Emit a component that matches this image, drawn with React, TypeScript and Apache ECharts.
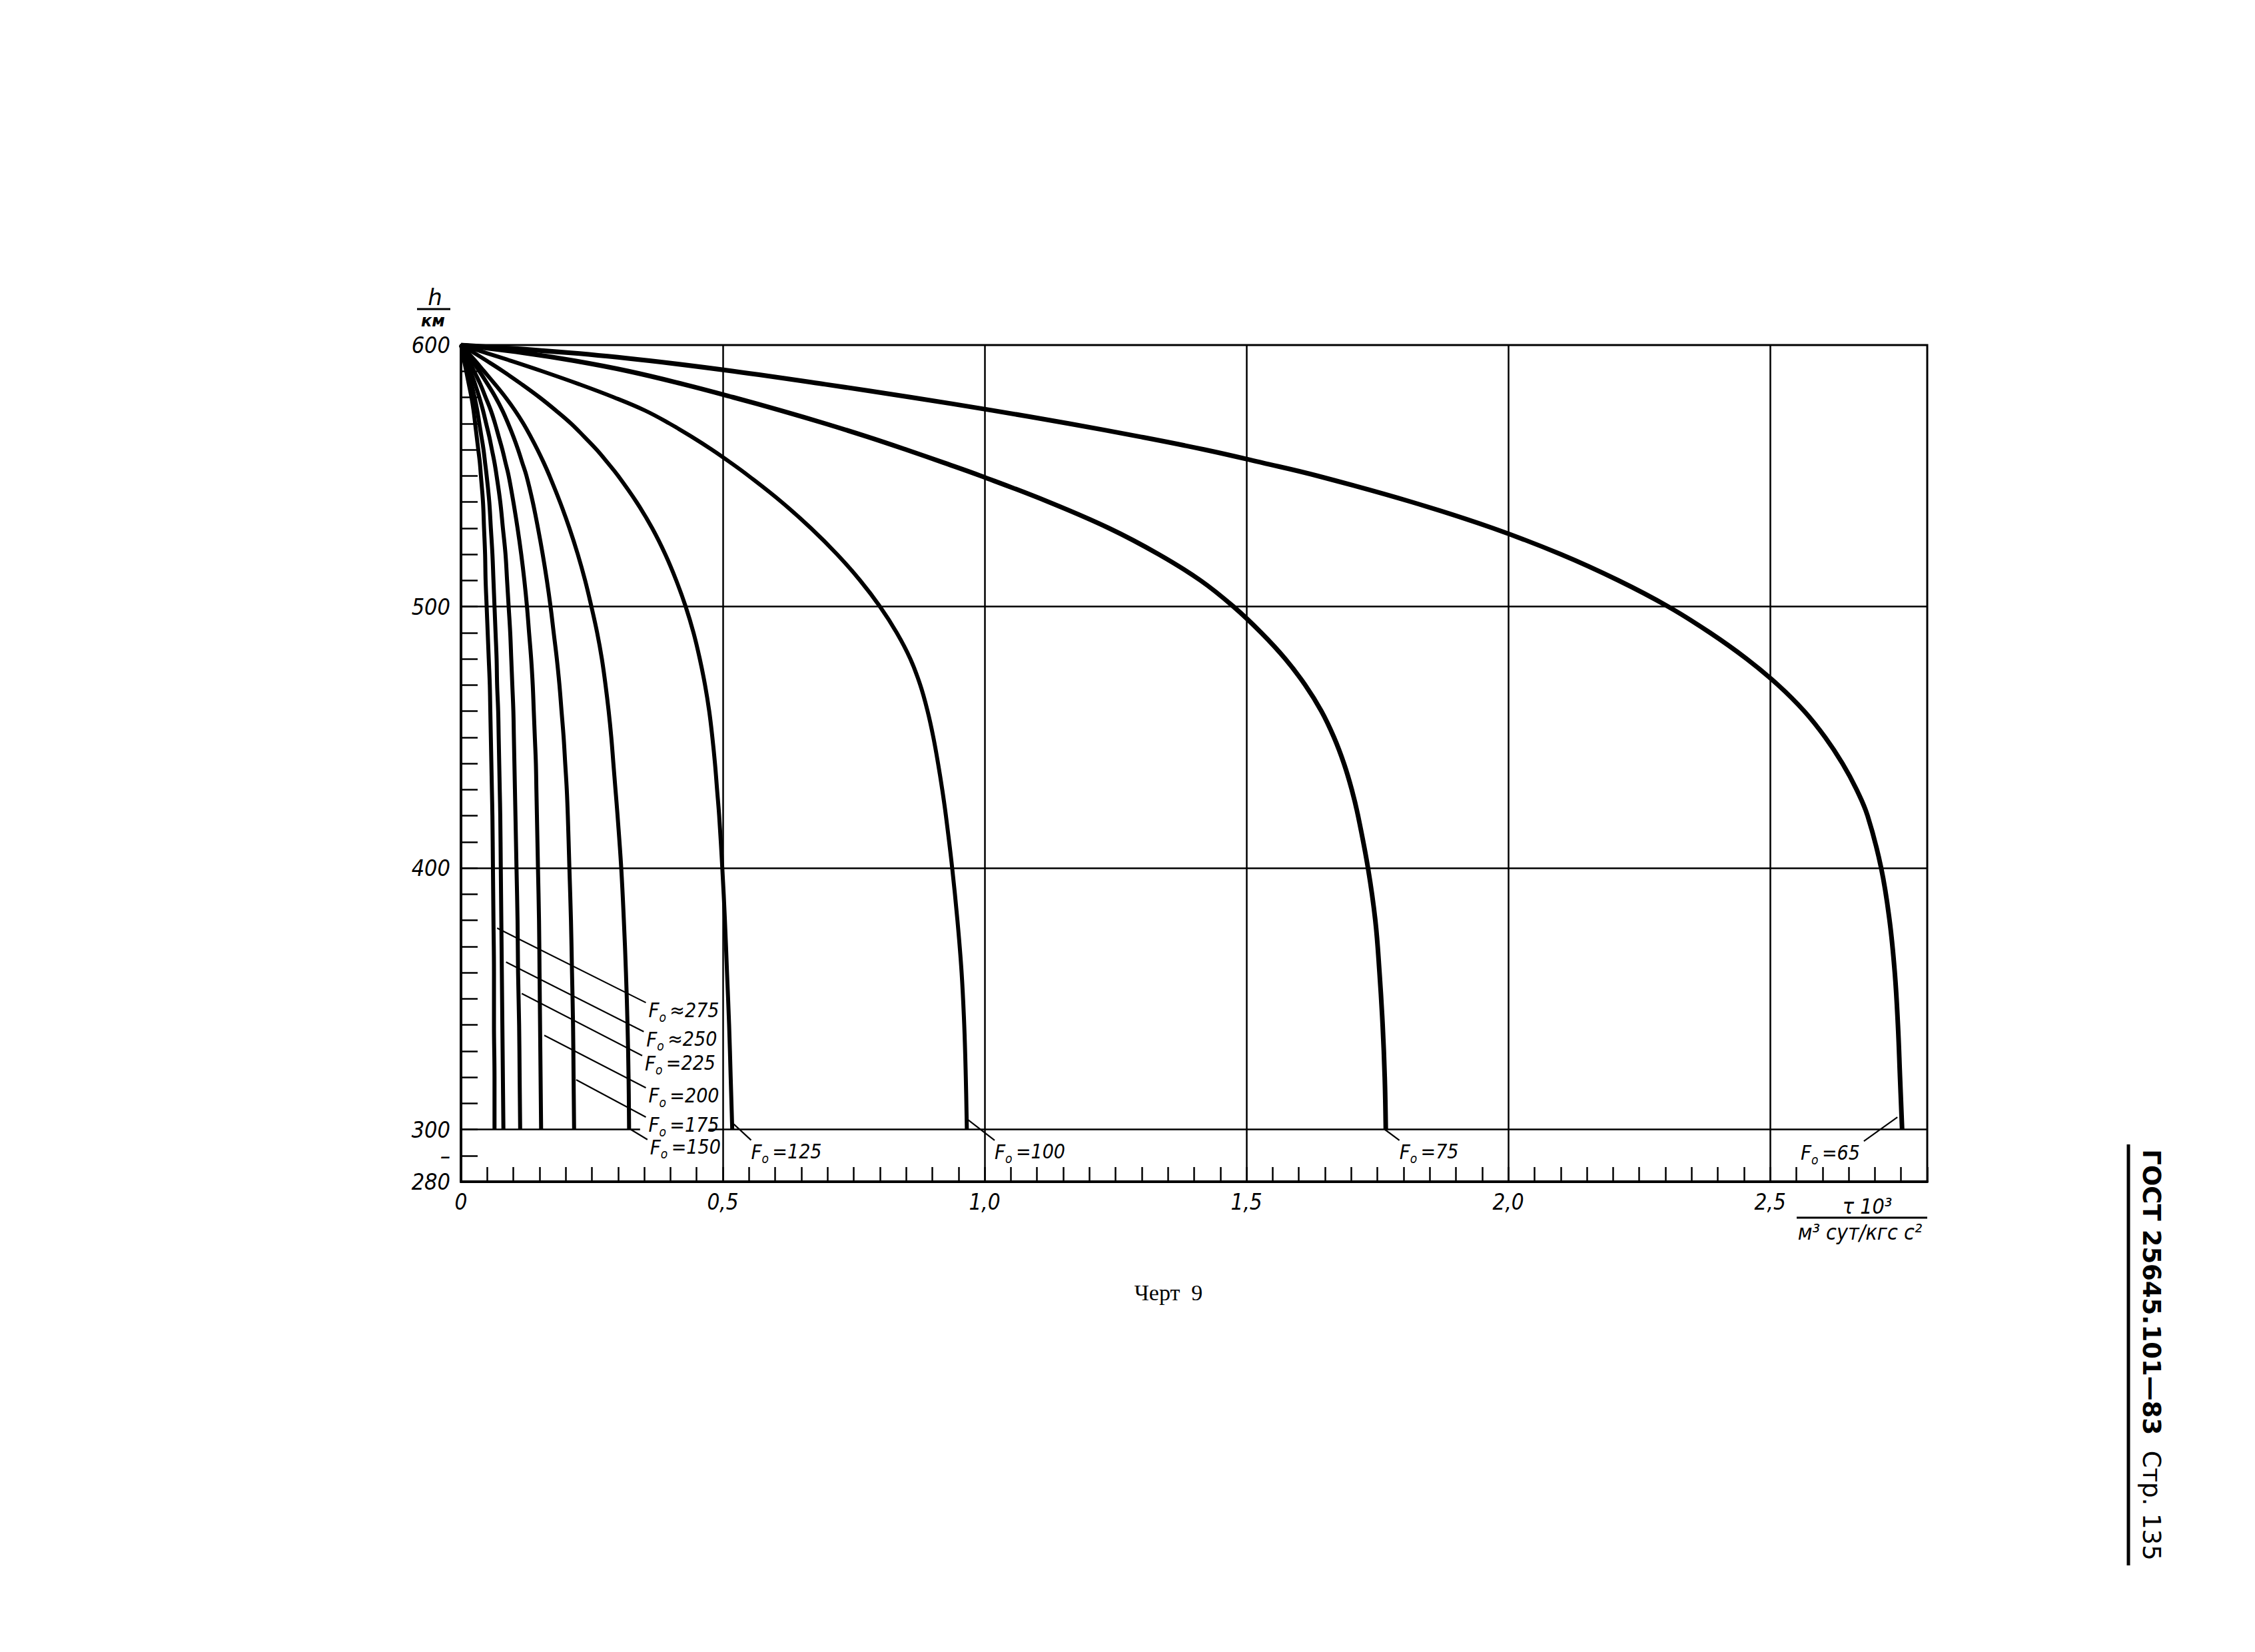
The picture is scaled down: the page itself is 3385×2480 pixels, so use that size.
import React, { useEffect, useRef } from "react";
import * as echarts from "echarts";

// Altitude levels h, km (common sampling of every curve)
const H_LEVELS = [600, 597, 594, 590, 585, 580, 575, 570, 565, 560, 555, 550, 540, 530, 520, 510, 500, 490, 480, 470, 460, 450, 440, 430, 420, 400, 380, 360, 340, 320, 300];

// tau·10^3 values read for each F0 curve at the levels above
const TAU_275 = [0, 0.003, 0.006, 0.01, 0.015, 0.02, 0.024, 0.027, 0.03, 0.033, 0.036, 0.038, 0.042, 0.044, 0.046, 0.047, 0.049, 0.051, 0.053, 0.055, 0.056, 0.057, 0.058, 0.059, 0.06, 0.061, 0.062, 0.063, 0.063, 0.064, 0.064];
const TAU_250 = [0, 0.004, 0.008, 0.013, 0.02, 0.026, 0.031, 0.035, 0.039, 0.043, 0.046, 0.049, 0.054, 0.057, 0.06, 0.062, 0.064, 0.066, 0.068, 0.069, 0.071, 0.072, 0.073, 0.074, 0.075, 0.076, 0.077, 0.078, 0.079, 0.08, 0.081];
const TAU_225 = [0, 0.006, 0.011, 0.018, 0.027, 0.035, 0.042, 0.048, 0.054, 0.059, 0.064, 0.068, 0.075, 0.08, 0.085, 0.088, 0.091, 0.094, 0.096, 0.098, 0.1, 0.101, 0.102, 0.103, 0.104, 0.106, 0.108, 0.109, 0.111, 0.112, 0.113];
const TAU_200 = [0, 0.008, 0.015, 0.025, 0.037, 0.047, 0.057, 0.065, 0.072, 0.079, 0.085, 0.091, 0.1, 0.108, 0.115, 0.121, 0.126, 0.13, 0.134, 0.137, 0.139, 0.141, 0.143, 0.144, 0.145, 0.147, 0.149, 0.15, 0.151, 0.152, 0.153];
const TAU_175 = [0, 0.011, 0.021, 0.035, 0.051, 0.066, 0.079, 0.09, 0.1, 0.109, 0.117, 0.125, 0.137, 0.147, 0.156, 0.164, 0.171, 0.177, 0.183, 0.188, 0.192, 0.196, 0.199, 0.202, 0.204, 0.207, 0.21, 0.212, 0.214, 0.215, 0.216];
const TAU_150 = [0, 0.0135, 0.027, 0.044, 0.065, 0.085, 0.103, 0.119, 0.133, 0.146, 0.158, 0.169, 0.189, 0.207, 0.223, 0.237, 0.249, 0.26, 0.269, 0.276, 0.282, 0.287, 0.291, 0.295, 0.299, 0.306, 0.311, 0.315, 0.318, 0.32, 0.321];
const TAU_125 = [0, 0.025, 0.049, 0.08, 0.116, 0.15, 0.181, 0.21, 0.235, 0.259, 0.28, 0.3, 0.335, 0.365, 0.39, 0.411, 0.429, 0.444, 0.456, 0.466, 0.474, 0.48, 0.485, 0.489, 0.493, 0.499, 0.504, 0.508, 0.512, 0.515, 0.518];
const TAU_100 = [0, 0.048, 0.095, 0.155, 0.226, 0.292, 0.351, 0.398, 0.44, 0.479, 0.515, 0.549, 0.612, 0.668, 0.718, 0.762, 0.8, 0.832, 0.858, 0.877, 0.891, 0.902, 0.911, 0.919, 0.926, 0.938, 0.948, 0.956, 0.961, 0.964, 0.966];
const TAU_75 = [0, 0.12, 0.216, 0.32, 0.425, 0.52, 0.61, 0.695, 0.775, 0.85, 0.922, 0.992, 1.122, 1.237, 1.332, 1.412, 1.475, 1.528, 1.574, 1.612, 1.643, 1.667, 1.686, 1.701, 1.713, 1.732, 1.746, 1.754, 1.76, 1.764, 1.766];
const TAU_65 = [0, 0.21, 0.36, 0.52, 0.695, 0.86, 1.015, 1.16, 1.295, 1.42, 1.53, 1.635, 1.815, 1.97, 2.1, 2.21, 2.305, 2.385, 2.455, 2.515, 2.565, 2.605, 2.638, 2.665, 2.686, 2.712, 2.728, 2.738, 2.744, 2.748, 2.752];

const F0_VALUES = [275, 250, 225, 200, 175, 150, 125, 100, 75, 65];
const CURVES = [TAU_275, TAU_250, TAU_225, TAU_200, TAU_175, TAU_150, TAU_125, TAU_100, TAU_75, TAU_65];
const LABEL_SIGNS = ["≈", "≈", "=", "=", "=", "=", "=", "=", "=", "="];

// leader lines (data coords): from the curve to the label
const LEADER_FROM_TAU = [0.069, 0.086, 0.116, 0.159, 0.22, 0.324, 0.521, 0.963, 1.764, 2.743];
const LEADER_FROM_H = [377, 364, 352, 336, 319, 300, 302, 304.5, 300, 304.7];
const LEADER_TO_TAU = [0.353, 0.349, 0.346, 0.353, 0.353, 0.356, 0.554, 1.019, 1.792, 2.679];
const LEADER_TO_H = [348.5, 337.4, 328.2, 315.9, 304.7, 296.1, 295.9, 295.8, 295.8, 295.5];

// grid lines
const V_GRID = [0.5, 1.0, 1.5, 2.0, 2.5];
const H_GRID = [400, 500];
const H300_SEGMENTS = [[0, 0.342], [0.473, 2.8]];

const X_LABELED = [0, 0.5, 1.0, 1.5, 2.0, 2.5];
const X_LABEL_TEXT = ["0", "0,5", "1,0", "1,5", "2,0", "2,5"];
const Y_LABELED = [600, 500, 400, 300, 290, 280];
const Y_LABEL_TEXT = ["600", "500", "400", "300", "–", "280"];

const NARROW = "'Liberation Sans Narrow', 'DejaVu Sans Condensed', 'Liberation Sans', sans-serif";
const SANS = "'DejaVu Sans', 'Liberation Sans', sans-serif";

export default function App() {
  const ref = useRef<HTMLDivElement>(null);

  useEffect(() => {
    document.body.style.margin = "0";
    const chart = echarts.init(ref.current as HTMLDivElement, undefined, { renderer: "svg" });

    const curveSeries = CURVES.map((tau, i) => ({
      type: "line",
      name: "F0=" + F0_VALUES[i],
      data: H_LEVELS.map((h, k) => [tau[k], h]),
      showSymbol: false,
      symbol: "none",
      smooth: 0.4,
      lineStyle: { color: "#000", width: i >= 8 ? 7 : 6 },
      z: 5,
      silent: true,
    }));

    const gridLineData: any[] = [
      ...V_GRID.map((v) => ({ xAxis: v })),
      ...H_GRID.map((v) => ({ yAxis: v })),
      ...H300_SEGMENTS.map((s) => [{ coord: [s[0], 300] }, { coord: [s[1], 300] }]),
    ];

    const leaderData: any[] = F0_VALUES.map((_, i) => [
      { coord: [LEADER_FROM_TAU[i], LEADER_FROM_H[i]] },
      { coord: [LEADER_TO_TAU[i], LEADER_TO_H[i]] },
    ]);

    const option: any = {
      animation: false,
      backgroundColor: "#fff",
      grid: { left: 692, top: 518, width: 2201, height: 1256, show: true, borderColor: "#000", borderWidth: 3, backgroundColor: "transparent" },
      xAxis: {
        type: "value",
        min: 0,
        max: 2.8,
        interval: 0.05,
        axisLine: { show: true, onZero: false, lineStyle: { color: "#000", width: 4 } },
        axisTick: { show: true, inside: true, length: 22, lineStyle: { color: "#000", width: 2.5 } },
        axisLabel: {
          show: true,
          margin: 14,
          color: "#000",
          fontSize: 33,
          fontStyle: "italic",
          fontFamily: NARROW,
          formatter: (v: number) => {
            const idx = X_LABELED.findIndex((x) => Math.abs(x - v) < 1e-6);
            return idx >= 0 ? X_LABEL_TEXT[idx] : "";
          },
        },
        splitLine: { show: false },
      },
      yAxis: {
        type: "value",
        min: 280,
        max: 600,
        interval: 10,
        axisLine: { show: true, onZero: false, lineStyle: { color: "#000", width: 4 } },
        axisTick: { show: true, inside: true, length: 25, lineStyle: { color: "#000", width: 2.5 } },
        axisLabel: {
          show: true,
          margin: 16,
          color: "#000",
          fontSize: 34,
          fontStyle: "italic",
          fontFamily: NARROW,
          formatter: (v: number) => {
            const idx = Y_LABELED.findIndex((y) => Math.abs(y - v) < 1e-6);
            return idx >= 0 ? Y_LABEL_TEXT[idx] : "";
          },
        },
        splitLine: { show: false },
      },
      series: [
        {
          type: "line",
          data: [],
          silent: true,
          z: 1,
          markLine: {
            silent: true,
            symbol: ["none", "none"],
            label: { show: false },
            lineStyle: { color: "#000", width: 2.5, type: "solid" },
            data: gridLineData,
          },
        },
        {
          type: "line",
          data: [],
          silent: true,
          z: 4,
          markLine: {
            silent: true,
            symbol: ["none", "none"],
            label: { show: false },
            lineStyle: { color: "#000", width: 2.2, type: "solid" },
            data: leaderData,
          },
        },
        ...curveSeries,
      ],
    };

    chart.setOption(option);

    const labelRich = {
      f: { fontSize: 31, fontStyle: "italic", fontFamily: NARROW, fill: "#000", lineHeight: 40, verticalAlign: "middle" },
      s: { fontSize: 19, fontStyle: "italic", fontFamily: NARROW, fill: "#000", lineHeight: 40, verticalAlign: "bottom" },
      t: { fontSize: 30, fontStyle: "italic", fontFamily: NARROW, fill: "#000", lineHeight: 40, verticalAlign: "middle" },
    };

    const labelGraphics = F0_VALUES.map((f, i) => {
      const p = chart.convertToPixel({ gridIndex: 0 }, [LEADER_TO_TAU[i], LEADER_TO_H[i]]) as number[];
      const toLeft = LEADER_FROM_TAU[i] > LEADER_TO_TAU[i];
      const bottomRow = i >= 6;
      return {
        type: "text",
        x: toLeft ? p[0] - 6 : bottomRow ? p[0] : p[0] + 4,
        y: bottomRow ? p[1] + 17 : p[1] + 11,
        z: 10,
        silent: true,
        style: {
          text: `{f|F}{s|o}{t|\u2009${LABEL_SIGNS[i]}${f}}`,
          rich: labelRich,
          align: toLeft ? "right" : "left",
          verticalAlign: "middle",
        },
      };
    });

    const staticGraphics: any[] = [
      { type: "text", x: 653, y: 446, style: { text: "h", fontSize: 34, fontStyle: "italic", fontFamily: SANS, fill: "#000", align: "center", verticalAlign: "middle" } },
      { type: "line", shape: { x1: 626, y1: 464, x2: 676, y2: 464 }, style: { stroke: "#000", lineWidth: 3 } },
      { type: "text", x: 650, y: 482, style: { text: "км", fontSize: 24, fontStyle: "italic", fontWeight: "bold", fontFamily: SANS, fill: "#000", align: "center", verticalAlign: "middle" } },
      { type: "text", x: 2803, y: 1811, style: { text: "τ 10³", fontSize: 32, fontStyle: "italic", fontFamily: NARROW, fill: "#000", align: "center", verticalAlign: "middle" } },
      { type: "line", shape: { x1: 2697, y1: 1828, x2: 2893, y2: 1828 }, style: { stroke: "#000", lineWidth: 3 } },
      { type: "text", x: 2792, y: 1850, style: { text: "м³ сут/кгс с²", fontSize: 32, fontStyle: "italic", fontFamily: NARROW, fill: "#000", align: "center", verticalAlign: "middle" } },
      { type: "text", x: 1754, y: 1940, style: { text: "Черт  9", fontSize: 34, fontFamily: "'Liberation Serif', 'DejaVu Serif', serif", fill: "#000", align: "center", verticalAlign: "middle" } },
      { type: "line", shape: { x1: 3195, y1: 1718, x2: 3195, y2: 2350 }, style: { stroke: "#000", lineWidth: 5 } },
      {
        type: "text",
        x: 3229,
        y: 2034,
        rotation: -Math.PI / 2,
        style: {
          text: "{b|ГОСТ 25645.101—83}{r|  Стр. 135}",
          rich: {
            b: { fontSize: 37, fontWeight: "bold", fontFamily: SANS, fill: "#000" },
            r: { fontSize: 37, fontFamily: SANS, fill: "#000" },
          },
          align: "center",
          verticalAlign: "middle",
        },
      },
    ];

    chart.setOption({ graphic: [...staticGraphics, ...labelGraphics] });

    return () => {
      chart.dispose();
    };
  }, []);

  return (
    <div
      ref={ref}
      style={{ position: "absolute", left: 0, top: 0, width: 3385, height: 2480, background: "#fff" }}
    />
  );
}
